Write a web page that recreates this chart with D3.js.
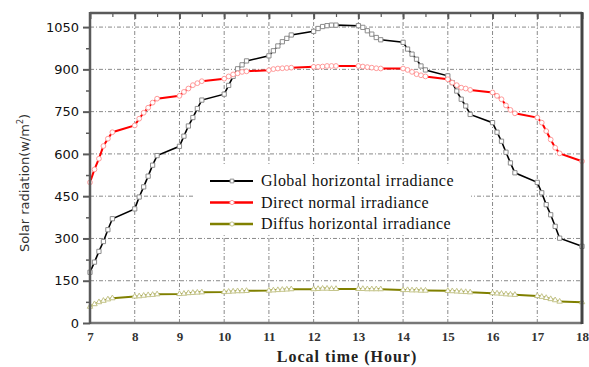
<!DOCTYPE html>
<html>
<head>
<meta charset="utf-8">
<script src="https://cdn.jsdelivr.net/npm/d3@7/dist/d3.min.js"></script>
<style>
  body { margin: 0; background: #fff; }
  svg { display: block; }
</style>
</head>
<body>
<div id="chart"></div>
<script>
// hours of the day at which each series was sampled
const hours = [
  7, 7.1, 7.2, 7.3, 7.4, 7.5,
  8, 8.1, 8.2, 8.3, 8.4, 8.5,
  9, 9.1, 9.2, 9.3, 9.4, 9.5,
  10, 10.1, 10.2, 10.3, 10.4, 10.5,
  11, 11.1, 11.2, 11.3, 11.4, 11.5,
  12, 12.1, 12.2, 12.3, 12.4, 12.5,
  13, 13.1, 13.2, 13.3, 13.4, 13.5,
  14, 14.1, 14.2, 14.3, 14.4, 14.5,
  15, 15.1, 15.2, 15.3, 15.4, 15.5,
  16, 16.1, 16.2, 16.3, 16.4, 16.5,
  17, 17.1, 17.2, 17.3, 17.4, 17.5,
  18
];

const globalHoriz = [
  180, 216, 254, 289, 331, 370,
  405, 447, 483, 521, 560, 594,
  627, 663, 699, 729, 761, 791,
  812, 843, 875, 902, 916, 930,
  948, 966, 983, 998, 1010, 1022,
  1035, 1045, 1052, 1055, 1057, 1057,
  1055, 1049, 1037, 1025, 1013, 1005,
  996, 972, 954, 936, 912, 898,
  877, 853, 823, 794, 770, 740,
  711, 677, 645, 606, 568, 533,
  499, 462, 420, 384, 343, 301,
  272
];

const directNormal = [
  499, 545, 583, 628, 654, 677,
  701, 725, 746, 764, 782, 796,
  806, 820, 832, 844, 851, 858,
  867, 875, 882, 886, 891, 893,
  897, 901, 903, 904, 905, 906,
  909, 909, 910, 912, 912, 912,
  912, 910, 908, 906, 904, 903,
  903, 898, 891, 883, 879, 875,
  865, 853, 844, 835, 832, 827,
  818, 806, 794, 772, 756, 744,
  729, 711, 681, 651, 622, 602,
  574
];

const diffusHoriz = [
  58, 67, 74, 79, 84, 88,
  94, 95, 97, 99, 100, 102,
  103, 104, 106, 107, 108, 109,
  110, 111, 112, 113, 113, 114,
  115, 116, 117, 118, 119, 120,
  120, 121, 122, 122, 121, 121,
  121, 121, 120, 120, 120, 120,
  117, 117, 116, 116, 115, 115,
  114, 113, 112, 111, 110, 109,
  106, 105, 104, 102, 101, 100,
  96, 93, 89, 85, 81, 76,
  74
];

const xTicks = [7, 8, 9, 10, 11, 12, 13, 14, 15, 16, 17, 18];
const yTicks = [0, 150, 300, 450, 600, 750, 900, 1050];

const series = [
  { name: "Global horizontal irradiance", values: globalHoriz, line: "#000", marker: "#8c8c8c", shape: d3.symbolSquare, size: 18, lw: 1.6 },
  { name: "Direct normal irradiance", values: directNormal, line: "#ff0000", marker: "#ff9a9a", shape: d3.symbolCircle, size: 18, lw: 2 },
  { name: "Diffus horizontal irradiance", values: diffusHoriz, line: "#808000", marker: "#c4c48a", shape: d3.symbolTriangle, size: 13, lw: 2 }
];

const width = 589;
const height = 367;
const margin = { left: 90, right: 7, top: 13, bottom: 44 };

const svg = d3.select("#chart")
  .append("svg")
  .attr("width", width)
  .attr("height", height);

const x = d3.scaleLinear()
  .domain([7, 18])
  .range([margin.left, width - margin.right]);

const y = d3.scaleLinear()
  .domain([0, 1100])
  .range([height - margin.bottom, margin.top]);

// Gridlines (dash-dot)
svg.append("g")
  .selectAll("line")
  .data(xTicks.slice(1, -1))
  .join("line")
  .attr("x1", d => x(d)).attr("x2", d => x(d))
  .attr("y1", y.range()[0]).attr("y2", y.range()[1])
  .attr("stroke", "#8a8a8a")
  .attr("stroke-width", 1)
  .attr("stroke-dasharray", "4,2,1,2");

svg.append("g")
  .selectAll("line")
  .data(yTicks.slice(1))
  .join("line")
  .attr("x1", x.range()[0]).attr("x2", x.range()[1])
  .attr("y1", d => y(d)).attr("y2", d => y(d))
  .attr("stroke", "#8a8a8a")
  .attr("stroke-width", 1)
  .attr("stroke-dasharray", "4,2,1,2");

// Series lines and markers
series.forEach(s => {
  const pts = hours.map((h, i) => [h, s.values[i]]);
  svg.append("path")
    .datum(pts)
    .attr("fill", "none")
    .attr("stroke", s.line)
    .attr("stroke-width", s.lw)
    .attr("d", d3.line().x(d => x(d[0])).y(d => y(d[1])));

  svg.append("g")
    .selectAll("path")
    .data(pts)
    .join("path")
    .attr("transform", d => `translate(${x(d[0])},${y(d[1])})`)
    .attr("d", d3.symbol().type(s.shape).size(s.size))
    .attr("fill", "#fff")
    .attr("stroke", s.marker)
    .attr("stroke-width", 1);
});

// Legend
const legend = svg.append("g");
legend.append("rect")
  .attr("x", 195).attr("y", 166)
  .attr("width", 276).attr("height", 69)
  .attr("fill", "#fff");

series.forEach((s, i) => {
  const ly = 181 + i * 21.5;
  legend.append("line")
    .attr("x1", 210).attr("x2", 253)
    .attr("y1", ly).attr("y2", ly)
    .attr("stroke", s.line)
    .attr("stroke-width", s.lw + 0.4);
  legend.append("path")
    .attr("transform", `translate(232,${ly})`)
    .attr("d", d3.symbol().type(i === 0 ? d3.symbolSquare : d3.symbolCircle).size(14))
    .attr("fill", "#fff")
    .attr("stroke", s.marker);
  legend.append("text")
    .attr("x", 261)
    .attr("y", ly + 5)
    .style("font-family", "'Liberation Serif', serif")
    .style("font-size", "16px")
    .style("letter-spacing", "0.45px")
    .style("fill", "#111")
    .text(s.name);
});

// Axes
const axisColor = "#5a5a5a";

// left axis
svg.append("g")
  .attr("transform", `translate(${margin.left},0)`)
  .call(d3.axisLeft(y).tickValues(yTicks).tickFormat(d3.format("d")).tickSize(7).tickPadding(4))
  .call(g => g.select(".domain").remove())
  .call(g => g.selectAll(".tick line").attr("stroke", axisColor).attr("stroke-width", 2))
  .call(g => g.selectAll(".tick text")
    .style("font-family", "'DejaVu Sans', sans-serif")
    .style("font-size", "13px")
    .style("fill", "#111"));

// minor ticks left
svg.append("g")
  .attr("transform", `translate(${margin.left},0)`)
  .call(d3.axisLeft(y).tickValues(yTicks.map(v => v + 75).filter(v => v < 1100)).tickSize(4).tickFormat(""))
  .call(g => g.select(".domain").remove())
  .call(g => g.selectAll(".tick line").attr("stroke", axisColor).attr("stroke-width", 1.5));

// bottom axis
svg.append("g")
  .attr("transform", `translate(0,${y(0)})`)
  .call(d3.axisBottom(x).tickValues(xTicks).tickSize(0).tickPadding(9))
  .call(g => g.select(".domain").remove())
  .call(g => g.selectAll(".tick text")
    .style("font-family", "'Liberation Serif', serif")
    .style("font-size", "13px")
    .style("font-weight", "bold")
    .style("fill", "#333"));

// top axis ticks (inward)
svg.append("g")
  .attr("transform", `translate(0,${margin.top})`)
  .call(d3.axisBottom(x).tickValues(xTicks).tickSize(6).tickFormat(""))
  .call(g => g.select(".domain").remove())
  .call(g => g.selectAll(".tick line").attr("stroke", axisColor).attr("stroke-width", 2));

svg.append("g")
  .attr("transform", `translate(0,${margin.top})`)
  .call(d3.axisBottom(x).tickValues(xTicks.slice(0, -1).map(v => v + 0.5)).tickSize(4).tickFormat(""))
  .call(g => g.select(".domain").remove())
  .call(g => g.selectAll(".tick line").attr("stroke", axisColor).attr("stroke-width", 1.2));

// frame
const [x0, x1] = x.range();
const [yb, yt] = y.range();
svg.append("line").attr("x1", x0).attr("x2", x1).attr("y1", yb).attr("y2", yb)
  .attr("stroke", "#777").attr("stroke-width", 2.5);
svg.append("line").attr("x1", x0).attr("x2", x1).attr("y1", yt).attr("y2", yt)
  .attr("stroke", axisColor).attr("stroke-width", 2.5);
svg.append("line").attr("x1", x0).attr("x2", x0).attr("y1", yt - 1).attr("y2", yb + 1)
  .attr("stroke", axisColor).attr("stroke-width", 2.5);
svg.append("line").attr("x1", x1).attr("x2", x1).attr("y1", yt - 1).attr("y2", yb + 1)
  .attr("stroke", "#444").attr("stroke-width", 3);

// Axis titles
svg.append("text")
  .attr("x", 347)
  .attr("y", 362)
  .attr("text-anchor", "middle")
  .style("font-family", "'Liberation Serif', serif")
  .style("font-size", "16px")
  .style("font-weight", "bold")
  .style("letter-spacing", "1px")
  .style("fill", "#222")
  .text("Local time (Hour)");

const yTitle = svg.append("text")
  .attr("transform", `translate(29,${(yb + yt) / 2 + 15}) rotate(-90)`)
  .attr("text-anchor", "middle")
  .style("font-family", "'DejaVu Sans', sans-serif")
  .style("font-size", "13px")
  .style("fill", "#333");
yTitle.append("tspan").text("Solar radiation(w/m");
yTitle.append("tspan").attr("dy", -6).style("font-size", "8px").text("2");
yTitle.append("tspan").attr("dy", 6).text(")");
</script>
</body>
</html>
